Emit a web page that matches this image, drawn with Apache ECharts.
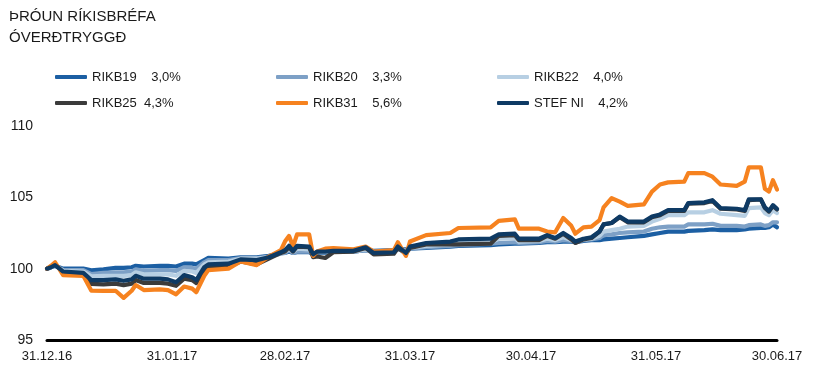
<!DOCTYPE html>
<html>
<head>
<meta charset="utf-8">
<script src="https://cdn.jsdelivr.net/npm/echarts@6/dist/echarts.min.js"></script>
<style>
html,body{margin:0;padding:0;background:#fff;}
#chart{width:813px;height:384px;}
</style>
</head>
<body>
<div id="chart"></div>
<script>
// ---- data ----
const titleText = 'ÞRÓUN RÍKISBRÉFA\nÓVERÐTRYGGÐ';
const tickLabels = ['31.12.16','31.01.17','28.02.17','31.03.17','30.04.17','31.05.17','30.06.17'];
const yTicks = [95, 100, 105, 110];
const seriesNames = ['RIKB19    3,0%','RIKB20    3,3%','RIKB22    4,0%','RIKB25  4,3%','RIKB31    5,6%','STEF NI    4,2%'];
const seriesColors = ['#1c5fa3','#7da0c6','#b7cfe3','#3b3b3b','#f6821f','#0e3a64'];

const dates = ['31.12.16','01.01.17','02.01.17','04.01.17','09.01.17','11.01.17','14.01.17','17.01.17','19.01.17','21.01.17',
'22.01.17','24.01.17','28.01.17','30.01.17','01.02.17','03.02.17','05.02.17','06.02.17','08.02.17','09.02.17',
'14.02.17','17.02.17','21.02.17','24.02.17','27.02.17','28.02.17','01.03.17','02.03.17','03.03.17','06.03.17',
'07.03.17','08.03.17','10.03.17','12.03.17','17.03.17','20.03.17','22.03.17','27.03.17','28.03.17','30.03.17',
'31.03.17','04.04.17','10.04.17','12.04.17','20.04.17','22.04.17','26.04.17','27.04.17','02.05.17','04.05.17',
'06.05.17','08.05.17','10.05.17','11.05.17','13.05.17','15.05.17','17.05.17','18.05.17','20.05.17','22.05.17',
'24.05.17','28.05.17','30.05.17','01.06.17','03.06.17','07.06.17','08.06.17','12.06.17','14.06.17','16.06.17',
'20.06.17','22.06.17','23.06.17','26.06.17','27.06.17','28.06.17','29.06.17','30.06.17'];

const rikb19 = [100,100.1,100.2,100.0,100.0,99.88,99.95,100.05,100.05,100.1,
100.2,100.15,100.2,100.2,100.15,100.35,100.35,100.3,100.6,100.75,
100.7,100.8,100.8,100.9,101.1,101.1,101.2,101.1,101.15,101.15,
101.0,101.1,101.1,101.2,101.2,101.3,101.25,101.3,101.35,101.35,
101.4,101.45,101.55,101.6,101.65,101.7,101.75,101.75,101.8,101.85,
101.85,101.9,101.9,101.85,101.95,102.0,102.0,102.05,102.1,102.15,
102.2,102.3,102.4,102.5,102.6,102.6,102.65,102.7,102.75,102.7,
102.7,102.75,102.8,102.85,102.85,102.9,103.1,102.9];

const rikb20 = [100,100.1,100.2,99.92,99.9,99.62,99.7,99.75,99.75,99.8,
99.95,99.85,99.9,99.9,99.85,100.1,100.05,100.0,100.45,100.6,
100.6,100.75,100.75,100.85,101.05,101.1,101.3,101.1,101.2,101.2,
101.0,101.15,101.15,101.2,101.2,101.3,101.2,101.25,101.35,101.3,
101.4,101.5,101.6,101.65,101.75,101.8,101.85,101.8,101.85,101.95,
101.9,102.0,101.95,101.9,102.0,102.05,102.15,102.35,102.4,102.5,
102.55,102.6,102.8,102.9,102.95,102.95,103.1,103.1,103.15,103.0,
103.0,102.95,103.05,103.1,103.0,103.05,103.25,103.25];

const rikb22 = [100,100.1,100.25,99.85,99.8,99.46,99.5,99.5,99.5,99.55,
99.75,99.6,99.6,99.6,99.5,99.85,99.8,99.7,100.3,100.45,
100.5,100.7,100.7,100.8,101.1,101.2,101.4,101.2,101.4,101.35,
101.0,101.15,101.15,101.2,101.2,101.35,101.15,101.2,101.4,101.2,
101.45,101.6,101.7,101.8,101.85,102.1,102.15,101.9,101.95,102.1,
102.0,102.2,102.0,101.9,102.05,102.1,102.3,102.6,102.7,102.8,
102.95,103.0,103.3,103.5,103.75,103.75,103.95,103.95,104.1,103.85,
103.75,103.7,104.25,104.3,103.9,103.75,104.1,103.9];

const rikb25 = [100,100.15,100.3,99.75,99.6,98.93,98.9,98.95,98.85,98.95,
99.2,99.0,99.0,98.95,98.8,99.3,99.2,99.0,99.9,100.1,
100.15,100.5,100.3,100.7,101.1,101.2,101.5,101.2,101.55,101.5,
100.8,100.85,100.75,101.15,101.2,101.45,101.0,101.05,101.45,101.05,
101.45,101.7,101.7,101.7,101.75,102.3,102.35,102.0,102.0,102.3,
102.1,102.45,102.05,101.8,102.05,102.15,102.6,103.1,103.2,103.6,
103.25,103.25,103.6,103.75,104.05,104.05,104.55,104.6,104.75,104.2,
104.15,104.05,104.8,104.85,104.25,104.0,104.4,104.15];

const rikb31 = [100,100.2,100.45,99.55,99.5,98.46,98.45,98.45,97.95,98.45,
98.85,98.5,98.55,98.5,98.2,98.75,98.6,98.35,99.5,99.9,
100.0,100.5,100.25,100.85,101.3,101.9,102.3,101.55,102.4,102.4,
100.9,101.2,101.4,101.45,101.35,101.55,101.2,101.3,101.85,100.9,
101.9,102.35,102.5,102.85,102.9,103.35,103.45,102.8,102.8,102.6,
102.55,103.55,103.0,102.45,102.9,102.95,103.4,104.3,104.95,104.7,
104.4,104.5,105.4,105.9,106.05,106.1,106.7,106.7,106.45,105.9,
105.8,106.1,107.1,107.1,105.6,105.4,106.2,105.55];

const stefNI = [100,100.1,100.25,99.8,99.7,99.2,99.2,99.25,99.15,99.25,
99.5,99.3,99.3,99.25,99.05,99.55,99.4,99.2,100.1,100.3,
100.35,100.65,100.6,100.8,101.15,101.3,101.6,101.25,101.6,101.55,
101.0,101.2,101.2,101.25,101.25,101.5,101.1,101.15,101.55,101.1,
101.55,101.8,101.9,102.05,102.1,102.4,102.45,102.1,102.1,102.35,
102.15,102.5,102.15,101.9,102.1,102.2,102.6,103.1,103.2,103.65,
103.3,103.3,103.65,103.8,104.1,104.1,104.6,104.65,104.8,104.25,
104.2,104.1,104.85,104.85,104.3,104.05,104.45,104.2];

const seriesValues = [rikb19, rikb20, rikb22, rikb25, rikb31, stefNI];

// ---- category axis: every calendar day ----
const categories = [];
(function(){
  const d = new Date(Date.UTC(2016, 11, 31));
  const end = Date.UTC(2017, 5, 30);
  while (d.getTime() <= end) {
    const dd = String(d.getUTCDate()).padStart(2,'0');
    const mm = String(d.getUTCMonth()+1).padStart(2,'0');
    const yy = String(d.getUTCFullYear()).slice(2);
    categories.push(dd + '.' + mm + '.' + yy);
    d.setUTCDate(d.getUTCDate()+1);
  }
})();

const FONT = '"Liberation Sans", Arial, sans-serif';
const chart = echarts.init(document.getElementById('chart'), null, {renderer:'canvas'});

const series = seriesNames.map((name, i) => ({
  name: name,
  type: 'line',
  showSymbol: false,
  symbol: 'none',
  color: seriesColors[i],
  lineStyle: { width: 4.2, color: seriesColors[i], cap: 'round', join: 'round' },
  data: dates.map((dt, k) => [categories.indexOf(dt), seriesValues[i][k]]),
  z: 2 + i
}));

const legendCols = [55, 276, 497];
const legendRows = [70, 96];
const legends = seriesNames.map((name, i) => ({
  data: [name],
  left: legendCols[i % 3],
  top: legendRows[Math.floor(i / 3)],
  icon: 'roundRect',
  itemWidth: 32,
  itemHeight: 4,
  padding: 0,
  selectedMode: false,
  textStyle: { fontFamily: FONT, fontSize: 13, color: '#1a1a1a', lineHeight: 14 }
}));

chart.setOption({
  animation: false,
  backgroundColor: '#ffffff',
  title: {
    text: titleText,
    left: 9,
    top: 6,
    padding: 0,
    textStyle: { fontFamily: FONT, fontSize: 15, fontWeight: 'normal', color: '#1a1a1a', lineHeight: 21 }
  },
  legend: legends,
  grid: { left: 47, right: 36, top: 126, bottom: 44, containLabel: false },
  xAxis: {
    type: 'category',
    data: categories,
    boundaryGap: false,
    axisLine: { show: true, lineStyle: { color: '#000', width: 3 } },
    axisTick: { show: false },
    axisLabel: {
      interval: (idx, val) => tickLabels.indexOf(val) >= 0,
      fontFamily: FONT, fontSize: 13, color: '#1a1a1a', margin: 10
    },
    splitLine: { show: false }
  },
  yAxis: {
    type: 'value',
    min: yTicks[0],
    max: yTicks[yTicks.length-1],
    interval: 5,
    axisLine: { show: false },
    axisTick: { show: false },
    splitLine: { show: false },
    axisLabel: { fontFamily: FONT, fontSize: 14, color: '#1a1a1a', margin: 14 }
  },
  series: series
});
</script>
</body>
</html>
